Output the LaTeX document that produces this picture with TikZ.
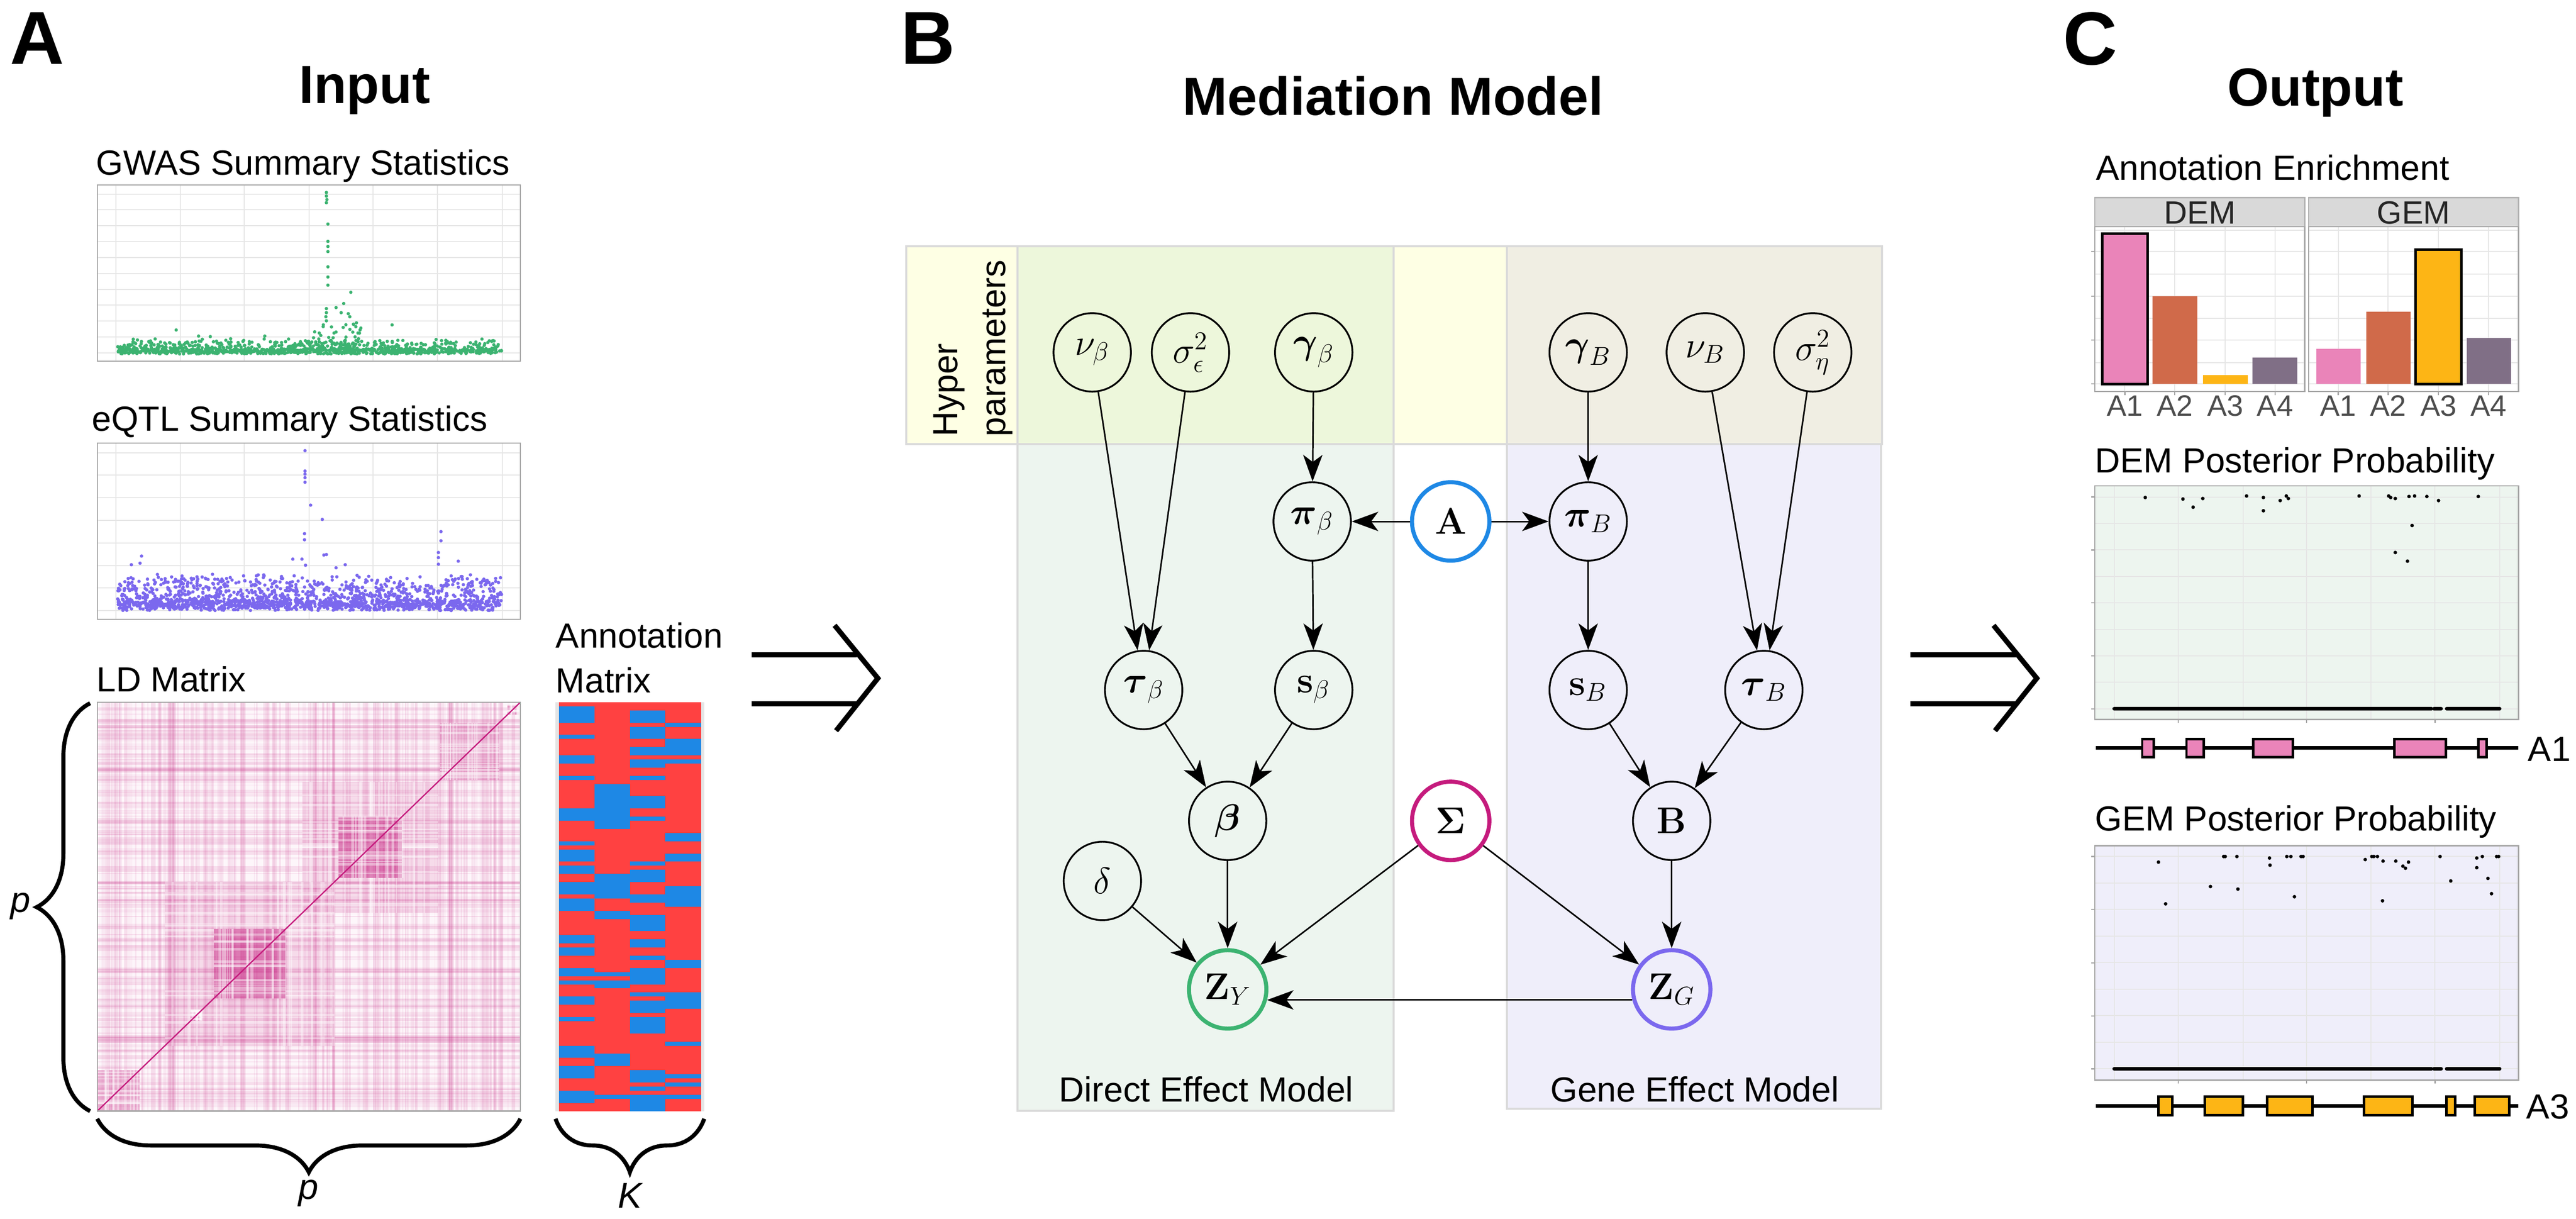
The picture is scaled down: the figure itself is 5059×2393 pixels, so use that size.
\documentclass[tikz,border=0pt]{standalone}
\usepackage{amsmath}
\usepackage[no-math]{fontspec}
\setmainfont{Liberation Sans}
\usetikzlibrary{arrows.meta, shapes.geometric, decorations.pathreplacing, calc, positioning}

\definecolor{gwasGreen}{HTML}{3CB371}
\definecolor{eqtlPurple}{HTML}{7B68EE}
\definecolor{ldPink}{HTML}{C51B7D}
\definecolor{annRed}{HTML}{FF4141}
\definecolor{annBlue}{HTML}{1E88E5}
\definecolor{hypYellow}{HTML}{FEFFE4}
\definecolor{demTop}{HTML}{EDF7DB}
\definecolor{demLow}{HTML}{EDF5EF}
\definecolor{gemTop}{HTML}{F0EEE3}
\definecolor{gemLow}{HTML}{EFEEFA}
\definecolor{boxLine}{HTML}{DADADA}
\definecolor{gridGrey}{HTML}{E6E6E6}
\definecolor{stripGrey}{HTML}{D9D9D9}
\definecolor{tickGrey}{HTML}{4D4D4D}
\definecolor{barA1}{HTML}{EA84B9}
\definecolor{barA2}{HTML}{D06A4A}
\definecolor{barA3}{HTML}{FDB515}
\definecolor{barA4}{HTML}{806F86}

\tikzset{
    panelLetter/.style={font=\fontsize{42}{50}\selectfont\bfseries, inner sep=0pt, anchor=base west},
    title/.style={font=\fontsize{30}{36}\selectfont\bfseries, inner sep=0pt, anchor=base},
    lab/.style={font=\fontsize{19.5}{27}\selectfont, inner sep=0pt, anchor=base west},
    labc/.style={lab, anchor=base},
    dimLab/.style={font=\fontsize{20}{24}\selectfont\itshape, inner sep=0pt, anchor=base},
    tick/.style={font=\fontsize{16.5}{20}\selectfont, text=tickGrey, inner sep=0pt, anchor=base},
    strip/.style={font=\fontsize{18}{22}\selectfont, text=black!85, inner sep=0pt, anchor=base},
    var/.style={ellipse, draw, line width=0.35mm, minimum width=15.2mm, minimum height=15.4mm, inner sep=0pt, font=\fontsize{20.74}{24}\selectfont},
    varAnno/.style={var, draw=annBlue, line width=0.8mm},
    varSig/.style={var, draw=ldPink, line width=0.8mm},
    varZy/.style={var, draw=gwasGreen, line width=0.8mm},
    varZg/.style={var, draw=eqtlPurple, line width=0.8mm},
    dep/.style={-{Stealth[length=5.2mm, width=3.8mm, inset=1.4mm]}, line width=0.3mm},
    implies/.style={line width=1mm},
    brace/.style={decorate, decoration={brace, amplitude=10.5mm}, line width=0.8mm},
    grid/.style={gridGrey, line width=0.2mm},
    frame/.style={draw=gray!70, line width=0.25mm},
    region/.style={draw=boxLine, line width=0.4mm},
    dot/.style={fill=black},
}
\newcommand{\drawDep}[3][dep]{
    \draw[#1] (#2) -- (#3);
}
\newcommand{\drawImplies}[2]{
    \draw[implies] (#1,#2-48) -- ++(207,0);
    \draw[implies] (#1,#2+48) -- ++(207,0);
    \draw[implies] (#1+163,#2-106) -- (#1+248,#2-2) -- (#1+166,#2+101);
}
\newcommand{\drawGene}[3]{
    \draw[line width=0.7mm] (4116,#1) -- (4946,#1);
    \foreach \a/\b in {#3}{
        \filldraw[fill=#2, line width=0.5mm] (\a,#1-18) rectangle (\b,#1+18);
    }
}

\begin{document}
\begin{tikzpicture}[x=0.1mm, y=-0.1mm]
    \useasboundingbox (0,0) rectangle (5059,2393);

    \node[panelLetter] (letA) at (19,126) {A};
    \node[panelLetter] (letB) at (1768,126) {B};
    \node[panelLetter] (letC) at (4051,127) {C};
    \node[title] (inTitle) at (716,203) {Input};
    \node[title] (medTitle) at (2736,226) {Mediation Model};
    \node[title] (outTitle) at (4547,208) {Output};

    % GWAS
    \node[lab] (gwasTitle) at (188,343) {GWAS Summary Statistics};
    \fill[white] (191,363) rectangle (1022,709);
    \foreach \gx in {228,354,480,607,733,859,986} \draw[grid] (\gx,363) -- (\gx,709);
    \foreach \gy in {381,412.2,...,700} \draw[grid] (191,\gy) -- (1022,\gy);
    \pgfmathsetseed{3}
    \foreach \i in {1,...,1100}{
        \pgfmathsetmacro\px{231+754*rnd}
        \pgfmathsetmacro\py{695-9*rnd-22*rnd^4}
        \fill[gwasGreen] (\px,\py) circle[radius=0.33mm];
    }
    \foreach \i in {1,...,60}{
        \pgfmathsetmacro\px{615+95*rnd}
        \pgfmathsetmacro\py{690-55*rnd^2}
        \fill[gwasGreen] (\px,\py) circle[radius=0.33mm];
    }
    \foreach \px/\py in {641/378,641/385,642/392,641/398,644/440,644/474,644/484,644/494,644/524,644/544,644/560,689/574,675/596,660/604,641/606,641/614,640/622,641/630,670/614,684/616,687/622,700/634,635/638,651/642,770/638,346/648,627/654,703/654,656/654,390/660,413/661,520/660}
        \fill[gwasGreen] (\px,\py) circle[radius=0.33mm];
    \draw[frame] (191,363) rectangle (1022,709);

    % eQTL
    \node[lab] (eqtlTitle) at (180,846) {eQTL Summary Statistics};
    \fill[white] (191,870) rectangle (1022,1216);
    \foreach \gx in {228,354,480,607,733,859,986} \draw[grid] (\gx,870) -- (\gx,1216);
    \foreach \gy in {889,933.3,...,1205} \draw[grid] (191,\gy) -- (1022,\gy);
    \pgfmathsetseed{8}
    \foreach \i in {1,...,1700}{
        \pgfmathsetmacro\px{231+754*rnd}
        \pgfmathsetmacro\py{1199-18*rnd-55*rnd^3}
        \fill[eqtlPurple] (\px,\py) circle[radius=0.33mm];
    }
    \foreach \px/\py in {599/885,599/925,599/931,599/938,599/947,610/992,633/1020,598/1048,598/1060,866/1044,866/1062,861/1085,861/1095,861/1108,258/1109,278/1092,275/1106,636/1090,641/1089,900/1102,575/1098,593/1098,678/1109,600/1110,660/1115}
        \fill[eqtlPurple] (\px,\py) circle[radius=0.33mm];
    \draw[frame] (191,870) rectangle (1022,1216);

    % LD matrix
    \node[lab] (ldTitle) at (189,1358) {LD Matrix};
    \begin{scope}
        \clip (191,1379) rectangle (1022,2182);
        \fill[ldPink!4] (191,1379) rectangle (1022,2182);
        \pgfmathsetseed{17}
        \foreach \i in {1,...,170}{
            \pgfmathsetmacro\s{rnd}
            \pgfmathsetmacro\w{0.002+0.007*rnd}
            \pgfmathsetmacro\o{0.03+0.09*rnd}
            \fill[ldPink, opacity=\o] ({191+831*\s},1379) rectangle ({191+831*(\s+\w)},2182);
            \fill[ldPink, opacity=\o] (191,{2182-803*\s}) rectangle (1022,{2182-803*(\s+\w)});
        }
        \foreach \u/\h/\o in {0.645/0.16/0.12, 0.645/0.075/0.5, 0.36/0.2/0.12, 0.36/0.085/0.5, 0.05/0.05/0.3, 0.88/0.07/0.18, 0.233/0.012/0.8, 0.985/0.015/0.45}{
            \fill[ldPink, opacity=\o] ({191+831*(\u-\h)},{2182-803*(\u-\h)}) rectangle ({191+831*(\u+\h)},{2182-803*(\u+\h)});
            \foreach \j in {1,...,14}{
                \pgfmathsetmacro\s{\u-\h+2*\h*rnd}
                \pgfmathsetmacro\w{0.002+0.005*rnd}
                \fill[white, opacity=0.4] ({191+831*\s},{2182-803*(\u-\h)}) rectangle ({191+831*(\s+\w)},{2182-803*(\u+\h)});
                \fill[white, opacity=0.4] ({191+831*(\u-\h)},{2182-803*\s}) rectangle ({191+831*(\u+\h)},{2182-803*(\s+\w)});
            }
        }
        \draw[ldPink, line width=0.25mm] (191,2182) -- (1022,1379);
    \end{scope}
    \draw[frame] (191,1379) rectangle (1022,2182);

    % annotation matrix
    \node[lab] (annTitleA) at (1091,1272) {Annotation};
    \node[lab] (annTitleB) at (1091,1360) {Matrix};
    \fill[gray!20] (1091,1379) rectangle (1383,2182);
    \pgfmathsetseed{5}
    \foreach \cx/\pb in {1098/0.36, 1167.5/0.14, 1237/0.42, 1306.5/0.10}{
        \xdef\prevBlue{0}
        \foreach \r in {0,...,99}{
            \pgfmathtruncatemacro\isblue{\prevBlue==1 ? (rnd<0.55) : (rnd<\pb)}
            \xdef\prevBlue{\isblue}
            \ifnum\isblue=1 \def\cc{annBlue}\else\def\cc{annRed}\fi
            \fill[\cc] ({\cx},{1379+8.03*\r}) rectangle ++(70.5,8.1);
        }
    }

    % braces
    \coordinate (ldBL) at (177,2182);
    \coordinate (ldTL) at (177,1381);
    \draw[brace] (ldBL) -- (ldTL);
    \node[dimLab] (pLeft) at (40,1791) {p};
    \coordinate (ldBR) at (1022,2197);
    \coordinate (ldBB) at (191,2197);
    \draw[brace] (ldBR) -- (ldBB);
    \node[dimLab] (pBottom) at (606,2355) {p};
    \coordinate (annBR) at (1383,2197);
    \coordinate (annBB) at (1091,2197);
    \draw[brace] (annBR) -- (annBB);
    \node[dimLab] (kBottom) at (1237,2372) {K};

    \drawImplies{1476}{1334}
    \drawImplies{3752}{1334}

    % mediation model regions
    \filldraw[fill=hypYellow, region] (1780,484) rectangle (3696,872);
    \filldraw[fill=demTop, region] (1998,484) rectangle (2737,872);
    \filldraw[fill=demLow, region] (1998,872) rectangle (2737,2181);
    \filldraw[fill=gemTop, region] (2959,484) rectangle (3696,872);
    \filldraw[fill=gemLow, region] (2959,872) rectangle (3694,2177);
    \node[lab, rotate=90] (hypA) at (1880,858) {Hyper};
    \node[lab, rotate=90] (hypB) at (1974,858) {parameters};
    \node[labc] (demLabel) at (2369,2164) {Direct Effect Model};
    \node[labc] (gemLabel) at (3328,2164) {Gene Effect Model};

    \node[var] (nub) at (2145,692) {$\nu_\beta$};
    \node[var] (sigeps) at (2338,692) {$\sigma^2_\epsilon$};
    \node[var] (gamb) at (2580,692) {$\boldsymbol{\gamma}_\beta$};
    \node[var] (gamB) at (3119,692) {$\boldsymbol{\gamma}_B$};
    \node[var] (nuB) at (3349,692) {$\nu_B$};
    \node[var] (sigeta) at (3560,692) {$\sigma^2_\eta$};
    \node[var] (pib) at (2577,1024) {$\boldsymbol{\pi}_\beta$};
    \node[varAnno] (annot) at (2849,1024) {$\mathbf{A}$};
    \node[var] (piB) at (3119,1024) {$\boldsymbol{\pi}_B$};
    \node[var] (taub) at (2246,1355) {$\boldsymbol{\tau}_\beta$};
    \node[var] (sb) at (2580,1355) {$\mathbf{s}_\beta$};
    \node[var] (sB) at (3119,1355) {$\mathbf{s}_B$};
    \node[var] (tauB) at (3464,1355) {$\boldsymbol{\tau}_B$};
    \node[var] (beta) at (2411,1612) {$\boldsymbol{\beta}$};
    \node[varSig] (sig) at (2849,1612) {$\boldsymbol{\Sigma}$};
    \node[var] (bigB) at (3283,1612) {$\mathbf{B}$};
    \node[var] (delta) at (2165,1730) {$\delta$};
    \node[varZy] (zy) at (2411,1943) {$\mathbf{Z}_Y$};
    \node[varZg] (zg) at (3283,1943) {$\mathbf{Z}_G$};

    \drawDep{nub}{taub}
    \drawDep{sigeps}{taub}
    \drawDep{gamb}{pib}
    \drawDep{annot}{pib}
    \drawDep{annot}{piB}
    \drawDep{gamB}{piB}
    \drawDep{pib}{sb}
    \drawDep{piB}{sB}
    \drawDep{nuB}{tauB}
    \drawDep{sigeta}{tauB}
    \drawDep{taub}{beta}
    \drawDep{sb}{beta}
    \drawDep{sB}{bigB}
    \drawDep{tauB}{bigB}
    \drawDep{beta}{zy}
    \drawDep{delta}{zy}
    \drawDep{sig}{zy}
    \drawDep{sig}{zg}
    \drawDep{bigB}{zg}
    \drawDep{zg.195}{zy.-15}

    % annotation enrichment
    \node[lab] (enrTitle) at (4116,354) {Annotation Enrichment};
    \filldraw[fill=stripGrey, draw=gray!60, line width=0.25mm] (4114,388) rectangle (4526,445);
    \filldraw[fill=stripGrey, draw=gray!60, line width=0.25mm] (4534,388) rectangle (4946,445);
    \node[strip] (demStrip) at (4320,440) {DEM};
    \node[strip] (gemStrip) at (4740,440) {GEM};
    \fill[white] (4114,445) rectangle (4526,769);
    \fill[white] (4534,445) rectangle (4946,769);
    \foreach \gy in {452,494,538,582,625,668,712,754}{
        \draw[grid] (4114,\gy) -- (4526,\gy);
        \draw[grid] (4534,\gy) -- (4946,\gy);
    }
    \foreach \gx in {4173,4271,4370,4468} \draw[grid] (\gx,445) -- (\gx,769);
    \foreach \gx in {4592,4690,4789,4887} \draw[grid] (\gx,445) -- (\gx,769);
    \foreach \xa/\xb/\yt/\c in {4129/4218/459/barA1, 4227/4315/582/barA2, 4326/4414/737/barA3, 4424/4512/702/barA4, 4549/4636/685/barA1, 4647/4734/612/barA2, 4744/4834/490/barA3, 4844/4931/664/barA4}
        \fill[\c] (\xa,\yt) rectangle (\xb,754);
    \draw[line width=0.5mm] (4129,459) rectangle (4218,754);
    \draw[line width=0.5mm] (4744,490) rectangle (4834,754);
    \draw[frame] (4114,445) rectangle (4526,769);
    \draw[frame] (4534,445) rectangle (4946,769);
    \foreach \gy in {494,582,668,754} \draw[frame] (4107,\gy) -- (4114,\gy);
    \foreach \tx/\tl [count=\k] in {4173/A1,4271/A2,4370/A3,4468/A4,4592/A1,4690/A2,4789/A3,4887/A4}{
        \draw[frame] (\tx,769) -- (\tx,776);
        \node[tick] (tk\k) at (\tx,817) {\tl};
    }

    % DEM posterior
    \node[lab] (demTitle) at (4114,928) {DEM Posterior Probability};
    \fill[demLow] (4114,954) rectangle (4946,1413);
    \foreach \gy in {976,1028,...,1392} \draw[grid] (4114,\gy) -- (4946,\gy);
    \foreach \gx in {4152,4278,4405,4530,4656,4782,4909} \draw[grid] (\gx,954) -- (\gx,1413);
    \foreach \px/\py in {4213/977,4287/980,4307/996,4326/979,4412/974,4445/977,4445/1003,4478/983,4490/974,4494/979,4633/974,4691/974,4695/977,4704/979,4731/975,4742/974,4766/975,4789/983,4867/975,4737/1032,4704/1085,4728/1102}
        \fill[dot] (\px,\py) circle[radius=0.35mm];
    \draw[line width=0.7mm, line cap=round] (4152,1392) -- (4775,1392);
    \draw[line width=0.7mm, line cap=round] (4780,1392) -- (4794,1392);
    \draw[line width=0.7mm, line cap=round] (4805,1392) -- (4909,1392);
    \draw[frame] (4114,954) rectangle (4946,1413);
    \foreach \gy in {976,1080,1184,1288,1392} \draw[frame] (4107,\gy) -- (4114,\gy);
    \foreach \gx in {4278,4530,4782} \draw[frame] (\gx,1413) -- (\gx,1420);
    \drawGene{1469}{barA1}{4207/4230, 4294/4328, 4425/4503, 4702/4803, 4867/4883}
    \node[lab] (geneA1) at (4964,1495) {A1};

    % GEM posterior
    \node[lab] (gemTitle) at (4114,1632) {GEM Posterior Probability};
    \fill[gemLow] (4114,1661) rectangle (4946,2121);
    \foreach \gy in {1682,1734.1,...,2100} \draw[grid] (4114,\gy) -- (4946,\gy);
    \foreach \gx in {4152,4278,4405,4530,4656,4782,4909} \draw[grid] (\gx,1661) -- (\gx,2121);
    \foreach \px/\py in {4239/1693,4253/1775,4341/1741,4367/1682,4370/1682,4393/1682,4395/1746,4457/1685,4458/1699,4491/1682,4499/1682,4506/1761,4519/1682,4523/1682,4645/1688,4658/1682,4662/1682,4669/1682,4680/1691,4679/1769,4705/1691,4719/1701,4724/1705,4730/1693,4792/1682,4813/1730,4864/1685,4864/1704,4875/1682,4886/1725,4893/1755,4903/1682,4907/1682}
        \fill[dot] (\px,\py) circle[radius=0.35mm];
    \draw[line width=0.7mm, line cap=round] (4152,2099) -- (4775,2099);
    \draw[line width=0.7mm, line cap=round] (4780,2099) -- (4794,2099);
    \draw[line width=0.7mm, line cap=round] (4805,2099) -- (4909,2099);
    \draw[frame] (4114,1661) rectangle (4946,2121);
    \foreach \gy in {1682,1786,1891,1995,2099} \draw[frame] (4107,\gy) -- (4114,\gy);
    \foreach \gx in {4278,4530,4782} \draw[frame] (\gx,2121) -- (\gx,2128);
    \drawGene{2172}{barA3}{4239/4266, 4330/4405, 4452/4541, 4643/4738, 4804/4822, 4860/4928}
    \node[lab] (geneA3) at (4961,2197) {A3};

\end{tikzpicture}
\end{document}
